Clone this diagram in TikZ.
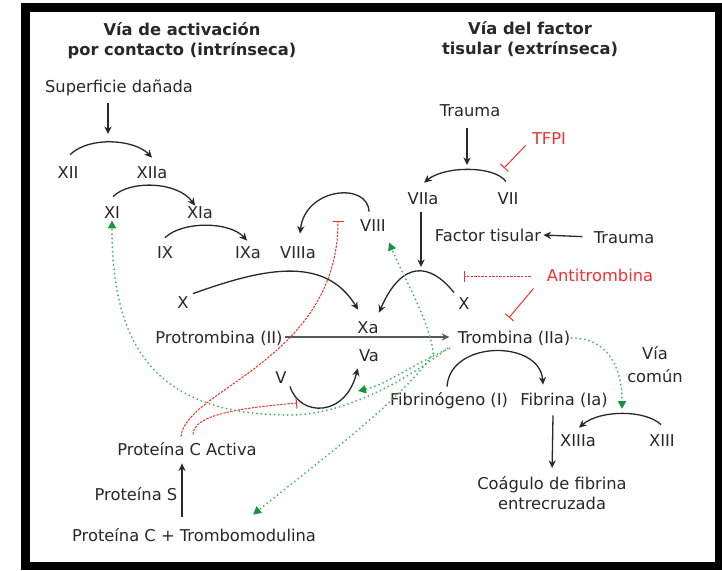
\documentclass[tikz,border=0pt]{standalone}
\usepackage{fontspec}
\setmainfont{DejaVu Sans}
\usetikzlibrary{arrows.meta,calc}
\definecolor{txt}{RGB}{40,40,40}
\definecolor{inh}{RGB}{238,50,50}
\definecolor{act}{RGB}{60,180,95}
\definecolor{acttip}{RGB}{20,150,60}
\tikzset{
  fac/.style={inner sep=1pt, text height=6pt, text depth=0pt, text=txt},
  grupo/.style={inner sep=1pt, align=center, text=txt},
  titulo/.style={grupo, font=\fontsize{8.15pt}{10pt}\selectfont\bfseries},
  flecha/.style={draw=txt, line width=0.65pt, -{Stealth[length=3.8pt,width=3.6pt]}},
  inhibe/.style={draw=inh, line width=0.5pt, -{Bar[width=5.5pt]}},
  inhibepunt/.style={inhibe, dash pattern=on 1.2pt off 0.6pt},
  activa/.style={draw=act, line width=1pt, line cap=round, dash pattern=on 0pt off 2.2pt,
    -{Triangle[length=4pt,width=4pt,color=acttip,line cap=butt]}}
}
\begin{document}
\begin{tikzpicture}[x=0.5pt, y=-0.5pt, font=\fontsize{8.15pt}{10pt}\selectfont]
\useasboundingbox (0,0) rectangle (722,570);
\fill[black] (21,3) rectangle (722,570);
\fill[white] (30,12) rectangle (715,562);

% titulos
\node[titulo] (tint) at (182,41) {Vía de activación\\por contacto (intrínseca)};
\node[titulo] (tinx) at (530,39) {Vía del factor\\tisular (extrínseca)};

% via intrinseca
\node[fac] (sup) at (119,86) {Superficie dañada};
\node[fac] (xii) at (68,172) {XII};
\node[fac] (xiia) at (152,172) {XIIa};
\node[fac] (xi) at (112,212) {XI};
\node[fac] (xia) at (200,212) {XIa};
\node[fac] (ix) at (165,252) {IX};
\node[fac] (ixa) at (248,252) {IXa};
\node[fac] (viiia) at (298,252) {VIIIa};
\node[fac] (viii) at (373,225) {VIII};
\node[fac] (xl) at (183,302) {X};

% via extrinseca
\node[fac] (trauma) at (470,110) {Trauma};
\node[fac,text=inh] (tfpi) at (549,138) {TFPI};
\node[fac] (viia) at (423,198) {VIIa};
\node[fac] (vii) at (508,198) {VII};
\node[fac] (ft) at (488,235) {Factor tisular};
\node[fac] (trauma2) at (624,237) {Trauma};
\node[fac,text=inh] (anti) at (600,275) {Antitrombina};
\node[fac] (xr) at (464,303) {X};

% via comun
\node[fac] (xa) at (368,327) {Xa};
\node[fac] (pro) at (219,337) {Protrombina (II)};
\node[fac] (trom) at (514,337) {Trombina (IIa)};
\node[fac] (va) at (369,355) {Va};
\node[fac] (v) at (281,377) {V};
\node[fac] (fgn) at (449,399) {Fibrinógeno (I)};
\node[fac] (fib) at (564,399) {Fibrina (Ia)};
\node[grupo, font=\fontsize{8.15pt}{11.5pt}\selectfont] (comun) at (655,365) {Vía\\común};
\node[fac] (xiiia) at (578,440) {XIIIa};
\node[fac] (xiii) at (662,440) {XIII};
\node[grupo] (coag) at (552,493) {Coágulo de fibrina\\entrecruzada};

% proteina C
\node[fac] (pca) at (187,449) {Proteína C Activa};
\node[fac] (ps) at (136,494) {Proteína S};
\node[fac] (pct) at (194,535) {Proteína C + Trombomodulina};

% puntos sobre las reacciones
\coordinate (r12) at (108,134);
\coordinate (r7) at (467,165);
\coordinate (r10) at (421,267);
\coordinate (r5) at (358,391);
\coordinate (r13) at (622,409);
\coordinate (i7) at (504,168);
\coordinate (i10) at (464,276);
\coordinate (i8) at (338,221);
\coordinate (i5) at (297,403);

% activaciones
\draw[flecha] (sup.south) ++(-11,9) -- (r12);
\draw[flecha] ($(xii.north)+(2,-9)$) .. controls +(20,-19) and +(-17,-18) .. ($(xiia.north)+(0,-6)$);
\draw[flecha] ($(xi.north)+(1,-7)$) .. controls +(17,-17) and +(-17,-24) .. ($(xia.north)+(-5,2)$);
\draw[flecha] ($(ix.north)+(0,-6)$) .. controls +(18,-17) and +(-17,-19) .. ($(ixa.north)+(-1,-3)$);
\draw[flecha] ($(viii.north)+(-4,-5)$) .. controls +(-1,-30) and +(5,-46) .. ($(viiia.north)+(2,-10)$);
\draw[flecha] ($(xl.north east)+(2,0)$) .. controls +(67,-24) and +(-34,-56) .. ($(xa.north west)+(3,-9)$);
\draw[flecha] ($(xr.north west)+(-2,-2)$) .. controls +(-24,-30) and +(23,-53) .. ($(xa.north east)+(-2,-6)$);
\draw[flecha, draw=black!65, line width=0.9pt, shorten >=3pt] (pro.east) -- (trom.west);
\draw[flecha] ($(v.south east)+(1,1)$) .. controls +(10,31) and +(-12,49) .. ($(va.south west)+(1,5)$);
\draw[flecha] ($(vii.north)+(-2,-8)$) .. controls +(-11,-16) and +(21,-17) .. ($(viia.north)+(1,-7)$);
\draw[flecha] (trauma.south) ++(-3,10) -- (r7);
\draw[flecha, shorten <=4.5pt] (trauma2.west) -- (ft.east);
\draw[flecha] (viia.south) ++(-2,6) -- (r10);
\draw[flecha] ($(fgn.north)+(-2,-4)$) .. controls +(3,-47) and +(-3,-45) .. ($(fib.north)+(-21,-6)$);
\draw[flecha, shorten >=3pt] (fib.south) ++(-11,8) -- (coag.north);
\draw[flecha] ($(xiii.north)+(-1,-7)$) .. controls +(-16,-15) and +(21,-18) .. ($(xiiia.north)+(1,-4)$);
\draw[flecha] (pct.north) ++(-12,-10) -- ($(pca.south)+(-5,6)$);

% inhibiciones
\draw[inhibe] (tfpi.south west) ++(-4,-1) -- (i7);
\draw[inhibepunt] (anti.west) ++(-14,1) -- (i10);
\draw[inhibe] (anti.south west) ++(-11,5) -- ($(trom.north)+(-5,-11)$);
\draw[inhibepunt] (pca.north) ++(-6,-4) .. controls +(4,-47) and +(0,139) .. (i8);
\draw[inhibepunt] (pca.north) ++(6,-6) .. controls +(0,-20) and +(-57,5) .. (i5);

% acciones de la trombina
\draw[activa] (trom.south west) ++(-8,3) .. controls (400,385) and (340,415) .. (290,415)
  .. controls (150,415) and (112,340) .. (xi.south);
\draw[activa] (trom.south west) ++(-22,8) .. controls +(-4,-33) and +(16,38) .. ($(viii.south)+(16,9)$);
\draw[activa] (trom.south west) ++(-22,8) .. controls +(-32,47) and +(67,-54) .. ($(pct.north)+(59,-12)$);
\draw[activa] (trom.south west) ++(-6,3) .. controls +(-38,17) and +(27,-6) .. (r5);
\draw[activa] (trom.east) ++(-1,1) .. controls +(38,0) and +(0,-39) .. (r13);
\end{tikzpicture}
\end{document}
